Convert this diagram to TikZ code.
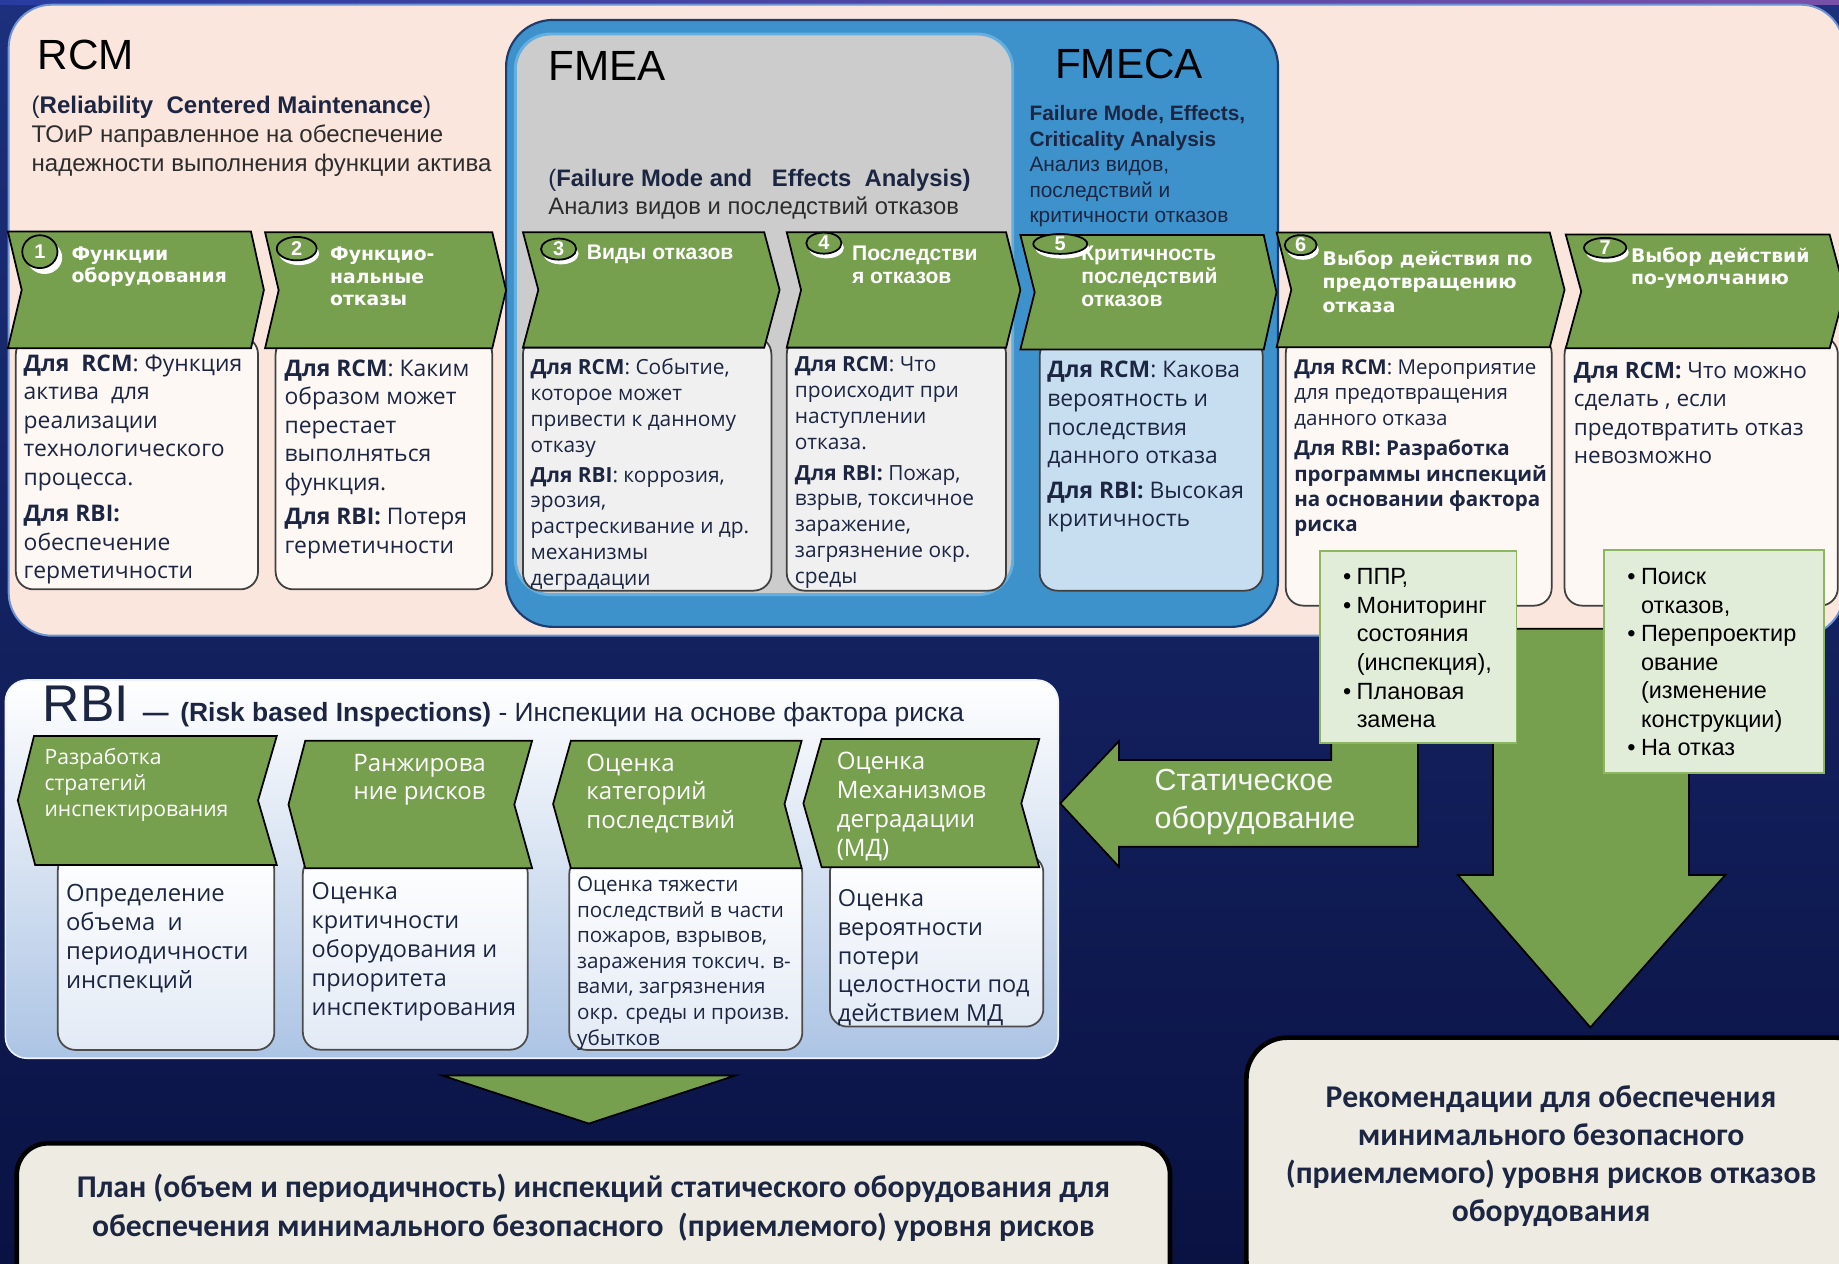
\documentclass[tikz,border=0pt]{standalone}
\usepackage{fontspec}
\setmainfont{Liberation Sans}
\newfontfamily\osans{Open Sans}
\newfontfamily\dvs{DejaVu Sans}
\newfontfamily\carl{Carlito}
\usetikzlibrary{shapes.geometric}
\definecolor{bgtop}{RGB}{28,48,125}
\definecolor{bgbot}{RGB}{10,18,66}
\definecolor{pinkp}{RGB}{250,230,220}
\definecolor{pinkb}{RGB}{110,150,210}
\definecolor{chgreen}{RGB}{119,160,78}
\definecolor{fmecab}{RGB}{62,146,204}
\definecolor{fmecad}{RGB}{30,60,110}
\definecolor{fmeag}{RGB}{204,204,204}
\definecolor{fmeagb}{RGB}{100,175,222}
\definecolor{boxw}{RGB}{253,248,244}
\definecolor{boxg}{RGB}{240,240,240}
\definecolor{boxb}{RGB}{199,222,240}
\definecolor{lgreen}{RGB}{226,237,217}
\definecolor{lgborder}{RGB}{140,182,98}
\definecolor{cream}{RGB}{238,236,226}
\definecolor{navy}{RGB}{28,38,66}
\definecolor{dgray}{RGB}{45,45,45}
\definecolor{rbibot}{RGB}{172,196,228}
\definecolor{rbiboxb}{RGB}{226,234,245}
\definecolor{stripl}{RGB}{40,60,160}
\definecolor{stripr}{RGB}{120,80,170}
\newcommand\fs[2]{\fontsize{\fpeval{#1*0.6}}{\fpeval{#2*0.6}}\selectfont}
\newcommand\tl[1]{\begin{tabular}[t]{@{}l@{}}#1\end{tabular}}
\newcommand\tcc[1]{\begin{tabular}[t]{@{}c@{}}#1\end{tabular}}
\newcommand\bul{\makebox[7.02pt][l]{•}}
\newcommand\ind{\hspace*{7.02pt}}
\tikzset{
  txt/.style={inner sep=0pt, outer sep=0pt, anchor=base west},
  chev/.style={fill=chgreen, draw=black, line width=0.9pt, line join=miter},
  cbox/.style={draw=black!75, line width=0.9pt, rounded corners=9pt},
  lbox/.style={fill=lgreen, draw=lgborder, line width=1pt},
  rbox/.style={draw=black!70, line width=0.9pt, rounded corners=9pt, top color=white, bottom color=rbiboxb},
  garrow/.style={fill=chgreen, draw=black, line width=0.9pt, line join=miter},
  crs/.style={ellipse, fill=white, inner sep=0pt},
  numel/.style={ellipse, draw=black, line width=0.9pt, fill=chgreen, inner sep=0pt, text=white, font=\bfseries\fs{17}{17}},
  endbox/.style={fill=cream, draw=black, line width=2.4pt},
}
\begin{document}
\begin{tikzpicture}[x=0.6pt,y=-0.6pt]
\useasboundingbox (0,0) rectangle (1568,1077);
\clip (0,0) rectangle (1568,1077);
% background
\shade[top color=bgtop, bottom color=bgbot] (0,0) rectangle (1568,1077);
\shade[left color=stripl, right color=stripr] (0,0) rectangle (1568,4);
% RCM panel
\draw[fill=pinkp, draw=pinkb, line width=1pt, rounded corners=22pt] (7.4,4) rectangle (1572,542);
% FMECA container
\draw[fill=fmecab, draw=fmecad, line width=1.1pt, rounded corners=24pt] (431.5,17) rectangle (1089.7,534.5);
% FMEA box
\draw[fill=fmeag, draw=fmeagb, line width=1.5pt, rounded corners=18pt] (439.4,29) rectangle (863.5,507);

% down arrow (right)
\draw[garrow] (1273,536) -- (1440,536) -- (1440,746) -- (1471,746) -- (1356,876) -- (1243,746) -- (1273,746) -- cycle;
% L arrow (static equipment)
\draw[garrow] (1135,560) -- (1209,560) -- (1209,722) -- (954,722) -- (954,739) -- (904,685) -- (954,632) -- (954,648) -- (1135,648) -- cycle;

% content boxes
\draw[cbox, fill=boxw] (13.5,287) rectangle (220,502.5);
\draw[cbox, fill=boxw] (235,287) rectangle (419.7,502.5);
\draw[cbox, fill=boxg] (445.9,287) rectangle (657.7,503.6);
\draw[cbox, fill=boxg] (670.8,287) rectangle (857.8,503.6);
\draw[cbox, fill=boxb] (886.5,288) rectangle (1076.6,503.6);
\draw[cbox, fill=boxw] (1096.3,286) rectangle (1323,516.4);
\draw[cbox, fill=boxw] (1334,287) rectangle (1567,516.4);

% chevrons top
\draw[chev] (6.7,197.4) -- (214,197.4) -- (225,247.2) -- (214,297) -- (6.7,297) -- (18.5,247.2) -- cycle;
\draw[chev] (226,198) -- (419.7,198) -- (431.5,247.5) -- (419.7,297) -- (226,297) -- (237.6,247.5) -- cycle;
\draw[chev] (445.9,198) -- (651.6,198) -- (664.7,247.2) -- (651.6,296.4) -- (445.9,296.4) -- (459,247.2) -- cycle;
\draw[chev] (670.8,198) -- (857.8,198) -- (870,247.2) -- (857.8,296.4) -- (670.8,296.4) -- (683,247.2) -- cycle;
\draw[chev] (870,200.4) -- (1077.5,200.4) -- (1088.4,249.2) -- (1077.5,298) -- (870,298) -- (882.2,249.2) -- cycle;
\draw[chev] (1088.5,198.2) -- (1321.4,198.2) -- (1334,247.1) -- (1321.4,296) -- (1088.5,296) -- (1101,247.1) -- cycle;
\draw[chev] (1335,200) -- (1560,200) -- (1573,248.5) -- (1560,297) -- (1335,297) -- (1348.2,248.5) -- cycle;

% green lists
\draw[lbox] (1125.4,470) rectangle (1293,633.8);
\draw[lbox] (1367.7,469) rectangle (1555.3,659);

% RBI panel
\draw[rounded corners=11pt, draw=white!80!rbibot, line width=0.8pt, top color=white, bottom color=rbibot] (4.6,579.8) rectangle (902.3,902.3);
\draw[rbox] (49.3,727) rectangle (233.9,895.2);
\draw[rbox] (258.2,730) rectangle (450,895);
\draw[rbox] (485.4,730) rectangle (684.1,895.2);
\draw[rbox] (707.6,729) rectangle (889.6,875.3);
\draw[chev] (29,627.5) -- (236,627.5) -- (220,682.5) -- (236,737.5) -- (30,737.5) -- (15.2,682.5) -- cycle;
\draw[chev] (260.3,631.5) -- (453.7,631.5) -- (438.5,686) -- (453.7,740.3) -- (260.3,740.3) -- (246,686) -- cycle;
\draw[chev] (486.8,631.5) -- (683.5,631.5) -- (668.9,685.5) -- (683.5,740.3) -- (486.8,740.3) -- (471.6,685.5) -- cycle;
\draw[chev] (700.6,630) -- (886.1,630) -- (870.8,685) -- (886.1,739.5) -- (700.6,739.5) -- (685,685) -- cycle;

% arrow under RBI
\draw[garrow] (377,917) -- (627,917) -- (502,958) -- cycle;

% final boxes
\draw[endbox, rounded corners=16pt] (14.3,974.8) rectangle (997.6,1110);
\draw[endbox, rounded corners=21pt] (1062.7,884.7) rectangle (1600,1110);

% ---------- texts top ----------
\node[txt] (rcm) at (32,59) {\fs{36}{36}RCM};
\node[txt] (rcmsub) at (27,97.2) {\fs{20.5}{24.5}\color{dgray}\tl{{\color{navy}(\textbf{Reliability~~Centered Maintenance})}\\ ТОиР направленное на обеспечение\\ надежности выполнения функции актива}};
\node[txt] (fmea) at (467.6,68.5) {\fs{36}{36}FMEA};
\node[txt] (fmeasub) at (467.6,159.3) {\fs{20.3}{24}\color{dgray}\tl{{\color{navy}(\textbf{Failure Mode and~~~Effects~~Analysis)}}\\ Анализ видов и последствий отказов}};
\node[txt] (fmeca) at (899.6,66.8) {\fs{36}{36}FMECA};
\node[txt] (fmecasub) at (877.8,102.8) {\fs{17.8}{21.8}\color{navy}\tl{\textbf{Failure Mode, Effects,}\\ \textbf{Criticality Analysis}\\ Анализ видов,\\ последствий и\\ критичности отказов}};

% headers
\node[txt] (h1) at (61,222.2) {\dvs\bfseries\fs{16}{19}\color{white}\tl{Функции\\ оборудования}};
\node[txt] (h2) at (281.5,221.9) {\dvs\bfseries\fs{16}{19.5}\color{white}\tl{Функцио-\\ нальные\\ отказы}};
\node[txt] (h3) at (500.3,221) {\bfseries\fs{18}{19.5}\color{white}Виды отказов};
\node[txt] (h4) at (726.5,222) {\bfseries\fs{18}{19.5}\color{white}\tl{Последстви\\ я отказов}};
\node[txt] (h5) at (922,222.5) {\bfseries\fs{18}{19.5}\color{white}\tl{Критичность\\ последствий\\ отказов}};
\node[txt] (h6) at (1127.8,226) {\dvs\bfseries\fs{16}{20.4}\color{white}\tl{Выбор действия по\\ предотвращению\\ отказа}};
\node[txt] (h7) at (1390.7,223.4) {\dvs\bfseries\fs{16}{19}\color{white}\tl{Выбор действий\\ по-умолчанию}};

% number circles
\node[crs, minimum width=18pt, minimum height=16.8pt] (c1s) at (38,219.6) {};
\node[numel, minimum width=18pt, minimum height=16.8pt] (c1) at (34,214.6) {1};
\node[crs, minimum width=20.4pt, minimum height=12pt] (c2s) at (255,216) {};
\node[numel, minimum width=20.4pt, minimum height=12pt] (c2) at (253,212) {2};
\node[crs, minimum width=18pt, minimum height=10.8pt] (c3s) at (478.3,216.4) {};
\node[numel, minimum width=18pt, minimum height=10.8pt] (c3) at (476.3,212.4) {3};
\node[crs, minimum width=18pt, minimum height=10.8pt] (c4s) at (704.5,211.3) {};
\node[numel, minimum width=18pt, minimum height=10.8pt] (c4) at (702.5,207.3) {4};
\node[crs, minimum width=27.6pt, minimum height=10.2pt] (c5s) at (906,212) {};
\node[numel, minimum width=27.6pt, minimum height=10.2pt] (c5) at (904,208) {5};
\node[crs, minimum width=16.3pt, minimum height=10.2pt] (c6s) at (1111,213) {};
\node[numel, minimum width=16.3pt, minimum height=10.2pt] (c6) at (1109,209) {6};
\node[crs, minimum width=21.6pt, minimum height=10.2pt] (c7s) at (1370.6,215.3) {};
\node[numel, minimum width=21.6pt, minimum height=10.2pt] (c7) at (1368.6,211.3) {7};

% bodies
\node[txt] (b1) at (20.2,316.5) {\osans\fs{19.5}{24.3}\color{navy}\tl{\textbf{Для~~RCM}: Функция\\ актива~~для\\ реализации\\ технологического\\ процесса.\\[4pt] \textbf{Для RBI:}\\ обеспечение\\ герметичности}};
\node[txt] (b2) at (242.7,321) {\osans\fs{19.5}{24.3}\color{navy}\tl{\textbf{Для RCM}: Каким\\ образом может\\ перестает\\ выполняться\\ функция.\\[3pt] \textbf{Для RBI:} Потеря\\ герметичности}};
\node[txt] (b3) at (452.4,319.3) {\osans\fs{17.8}{22.1}\color{navy}\tl{\textbf{Для RCM}: Событие,\\ которое может\\ привести к данному\\ отказу\\[2pt] \textbf{Для RBI}: коррозия,\\ эрозия,\\ растрескивание и др.\\ механизмы\\ деградации}};
\node[txt] (b4) at (677.8,317) {\osans\fs{17.8}{22}\color{navy}\tl{\textbf{Для RCM}: Что\\ происходит при\\ наступлении\\ отказа.\\[2.6pt] \textbf{Для RBI:} Пожар,\\ взрыв, токсичное\\ заражение,\\ загрязнение окр.\\ среды}};
\node[txt] (b5) at (893,322) {\osans\fs{19.5}{24.5}\color{navy}\tl{\textbf{Для RCM}: Какова\\ вероятность и\\ последствия\\ данного отказа\\[2.8pt] \textbf{Для RBI:} Высокая\\ критичность}};
\node[txt] (b6) at (1103.6,319) {\osans\fs{17.5}{21.7}\color{navy}\tl{\textbf{Для RCM}: Мероприятие\\ для предотвращения\\ данного отказа\\[2.6pt] \textbf{Для RBI: Разработка}\\ \textbf{программы инспекций}\\ \textbf{на основании фактора}\\ \textbf{риска}}};
\node[txt] (b7) at (1341.9,322.3) {\osans\fs{19.2}{24.4}\color{navy}\tl{\textbf{Для RCM:} Что можно\\ сделать , если\\ предотвратить отказ\\ невозможно}};

% lists
\node[txt] (l6) at (1145.1,498.4) {\fs{20}{24.4}\color{black}\tl{\bul ППР,\\ \bul Мониторинг\\ \ind состояния\\ \ind (инспекция),\\ \bul Плановая\\ \ind замена}};
\node[txt] (l7) at (1387.5,498.4) {\fs{20}{24.3}\color{black}\tl{\bul Поиск\\ \ind отказов,\\ \bul Перепроектир\\ \ind ование\\ \ind (изменение\\ \ind конструкции)\\ \bul На отказ}};

% static equipment
\node[txt] (stat) at (984.5,673.8) {\fs{26}{32.2}\color{white!94!gray}\tl{Статическое\\ оборудование}};

% RBI texts
\node[txt] (rbi) at (36.5,615.3) {\fs{44}{44}\color{navy}RBI};
\node[txt] (rbidash) at (121.8,615.3) {\fs{22}{22}\color{navy}\textbf{—}};
\node[txt] (rbisub) at (153.8,615.3) {\fs{22.5}{24}\color{navy}\textbf{(Risk based Inspections)} - Инспекции на основе фактора риска};

\node[txt] (r1h) at (38,652.2) {\osans\fs{18}{21.8}\color{white}\tl{Разработка\\ стратегий\\ инспектирования}};
\node[txt, anchor=base] (r2h) at (357.8,658) {\osans\fs{20.5}{24}\color{white}\tcc{Ранжирова\\ ние рисков}};
\node[txt] (r3h) at (500,658) {\osans\fs{20.5}{24}\color{white}\tl{Оценка\\ категорий\\ последствий}};
\node[txt] (r4h) at (713.5,656.5) {\osans\fs{20.5}{24.6}\color{white}\tl{Оценка\\ Механизмов\\ деградации\\ (МД)}};

\node[txt] (r1b) at (56.3,768.8) {\osans\fs{20.3}{24.6}\color{navy}\tl{Определение\\ объема~~и\\ периодичности\\ инспекций}};
\node[txt] (r2b) at (265.8,767.3) {\osans\fs{20}{24.7}\color{navy}\tl{Оценка\\ критичности\\ оборудования и\\ приоритета\\ инспектирования}};
\node[txt] (r3b) at (492.1,760.2) {\osans\fs{17.6}{21.8}\color{navy}\tl{Оценка тяжести\\ последствий в части\\ пожаров, взрывов,\\ заражения токсич. в-\\ вами, загрязнения\\ окр. среды и произв.\\ убытков}};
\node[txt] (r4b) at (714.4,773) {\osans\fs{20}{24.5}\color{navy}\tl{Оценка\\ вероятности\\ потери\\ целостности под\\ действием МД}};

% final texts
\node[txt, anchor=base] (plan) at (506,1021) {\carl\bfseries\fs{27}{33}\color{navy}\tcc{План (объем и периодичность) инспекций статического оборудования для\\ обеспечения минимального безопасного~~(приемлемого) уровня рисков}};
\node[txt, anchor=base] (rec) at (1322.5,944) {\carl\bfseries\fs{27}{32.5}\color{navy}\tcc{Рекомендации для обеспечения\\ минимального безопасного\\ (приемлемого) уровня рисков отказов\\ оборудования}};
\end{tikzpicture}
\end{document}
